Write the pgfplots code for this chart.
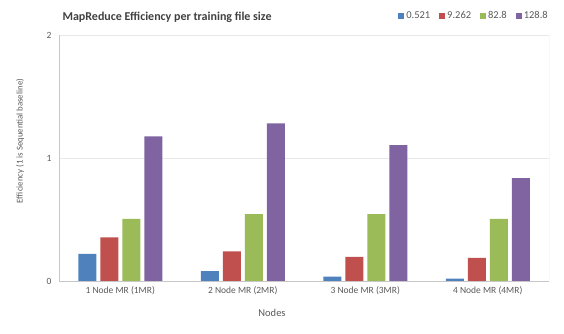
\documentclass[border=0pt]{standalone}
\usepackage{fontspec}
\setmainfont{Carlito}
\usepackage{pgfplots}
\pgfplotsset{compat=1.18}
\definecolor{mrblue}{HTML}{4F81BD}
\definecolor{mrred}{HTML}{C0504D}
\definecolor{mrgreen}{HTML}{9BBB59}
\definecolor{mrpurple}{HTML}{8064A2}
\definecolor{txtgray}{HTML}{595959}
\definecolor{linegray}{HTML}{D9D9D9}
\begin{document}
\begin{tikzpicture}[x=1pt,y=1pt]
\path[use as bounding box] (0,0) rectangle (564,334);
\begin{axis}[
  at={(59pt,53pt)}, anchor=south west,
  width=490pt, height=246pt, scale only axis,
  xmin=-0.5, xmax=3.5, ymin=0, ymax=2,
  ybar=4pt, bar width=18pt,
  xtick={0,1,2,3},
  xticklabels={1 Node MR (1MR),2 Node MR (2MR),3 Node MR (3MR),4 Node MR (4MR)},
  ytick={0,1,2},
  major tick length=0pt,
  axis x line*=bottom, axis y line*=left,
  axis line style={draw=linegray!80!gray, -},
  ymajorgrids, grid style={draw=linegray!60},
  ticklabel style={font=\fontsize{9.5}{11}\selectfont, text=txtgray},
  xticklabel style={yshift=-2pt},
  yticklabel style={xshift=-4pt},
  /pgf/number format/assume math mode=true,
  legend style={draw=none, fill=none, at={(1.008,1.077)}, anchor=east,
    font=\fontsize{10.5}{12}\selectfont, text=txtgray,
    legend columns=-1,
    /tikz/every even column/.append style={column sep=7pt}},
  legend image code/.code={\fill[#1] (0pt,-3pt) rectangle (6pt,3pt);},
]
\addplot[fill=mrblue, draw=none] coordinates {(0,0.22) (1,0.08) (2,0.035) (3,0.02)};
\addplot[fill=mrred, draw=none] coordinates {(0,0.355) (1,0.24) (2,0.196) (3,0.188)};
\addplot[fill=mrgreen, draw=none] coordinates {(0,0.505) (1,0.543) (2,0.543) (3,0.505)};
\addplot[fill=mrpurple, draw=none] coordinates {(0,1.175) (1,1.282) (2,1.105) (3,0.836)};
\legend{0.521,9.262,82.8,128.8}
\draw[linegray!80!gray] (rel axis cs:1,0) -- (rel axis cs:1,1);
\end{axis}
\node[anchor=west, font=\bfseries\fontsize{12}{14}\selectfont, text=black!75] at (59,317) {MapReduce Efficiency per training file size};
\node[rotate=90, font=\fontsize{8.8}{10}\selectfont, text=txtgray] at (20,193) {Efficiency (1 is Sequential baseline)};
\node[font=\fontsize{10.5}{12}\selectfont, text=txtgray] at (272,21) {Nodes};
\end{tikzpicture}
\end{document}
